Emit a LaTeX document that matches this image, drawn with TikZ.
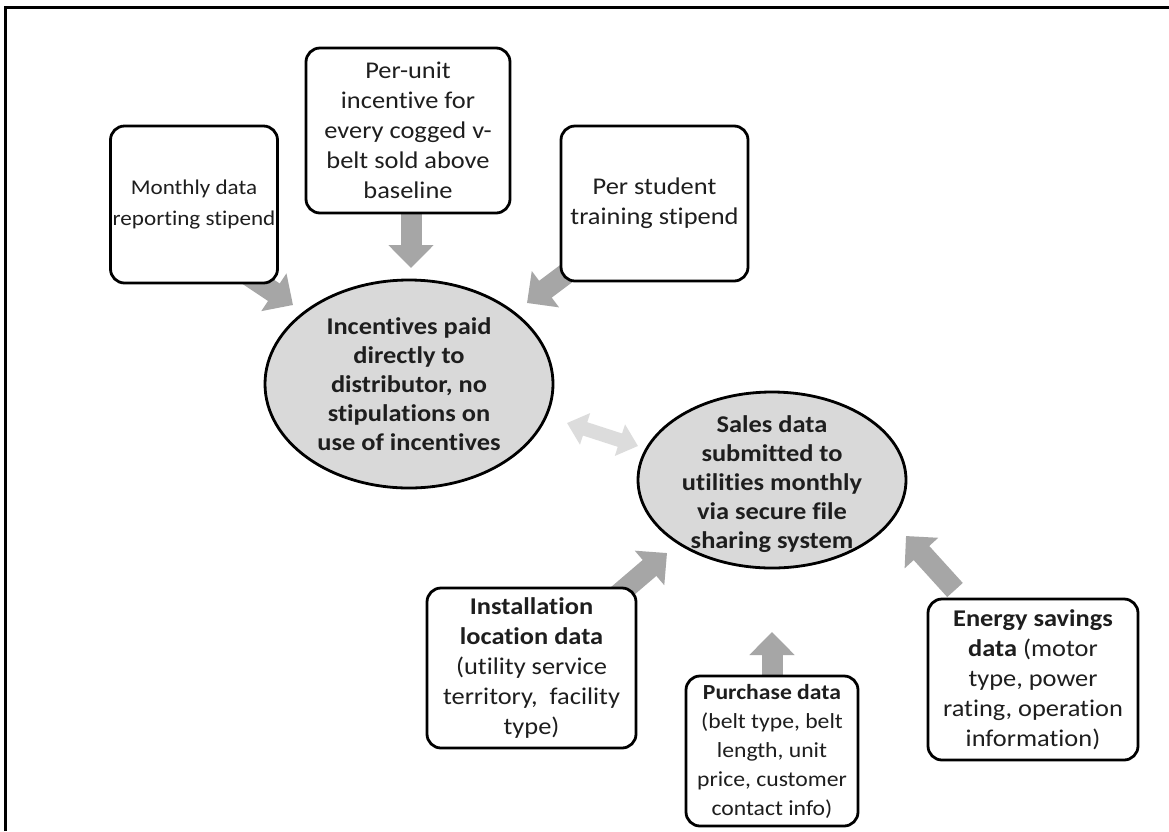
\documentclass[tikz,border=0pt]{standalone}
\usepackage{fontspec}
\setmainfont{Carlito}[FakeStretch=1.1,Ligatures=NoCommon]
\usetikzlibrary{arrows.meta,shapes.geometric}
\definecolor{arrowgray}{HTML}{A6A6A6}
\definecolor{lightarrow}{HTML}{DCDCDC}
\definecolor{ovalfill}{HTML}{D9D9D9}
\definecolor{txt}{HTML}{1E1E1E}
\begin{document}
\begin{tikzpicture}[x=1pt,y=-1pt,
  box/.style={draw, line width=2.8pt, rounded corners=14pt, fill=white,
    inner sep=0pt, text=txt, align=center, font=\fontsize{24}{30}\selectfont},
  oval/.style={ellipse, draw, line width=2.8pt, fill=ovalfill, inner sep=0pt},
  ovaltext/.style={align=center, text=txt, inner sep=0pt, font=\fontsize{24}{29}\selectfont\bfseries},
  blockarrow/.style={arrowgray, line width=21pt,
    -{Triangle[width=44pt,length=23pt]}},
  dblarrow/.style={lightarrow, line width=14pt,
    {Triangle[width=32pt,length=19pt]}-{Triangle[width=32pt,length=19pt]}}
]
\useasboundingbox (0,0) rectangle (1169,831);
\fill[white] (0,0) rectangle (1169,831);
\draw[line width=3pt] (5,831) -- (5,7) -- (1169,7);

% arrow coordinates
\coordinate (a1s) at (239,269);  \coordinate (a1e) at (293,305);
\coordinate (a2s) at (411,214);  \coordinate (a2e) at (411,268);
\coordinate (a3s) at (583,261);  \coordinate (a3e) at (527,303);
\coordinate (a4s) at (612,600);  \coordinate (a4e) at (667,553);
\coordinate (a5s) at (772,680);  \coordinate (a5e) at (772,632);
\coordinate (a6s) at (955,590);  \coordinate (a6e) at (906,536);

\draw[blockarrow] (a1s) -- (a1e);
\draw[blockarrow] (a2s) -- (a2e);
\draw[blockarrow] (a3s) -- (a3e);
\draw[blockarrow] (a4s) -- (a4e);
\draw[blockarrow] (a5s) -- (a5e);
\draw[blockarrow] (a6s) -- (a6e);

% top boxes
\node[box, minimum width=167pt, minimum height=157pt, font=\fontsize{21}{31}\selectfont] (b1) at (194,204.5)
  {Monthly data\\reporting stipend};
\node[box, minimum width=204pt, minimum height=165pt] (b2) at (408,130.5)
  {Per-unit\\incentive for\\every cogged v-\\belt sold above\\baseline};
\node[box, minimum width=187pt, minimum height=155pt] (b3) at (654.5,203.5)
  {Per student\\training stipend};

% ovals
\node[oval, minimum width=288pt, minimum height=208pt] (e1) at (409,384) {};
\node[ovaltext] (t1) at (e1) {Incentives paid\\directly to\\distributor, no\\stipulations on\\use of incentives};
\node[oval, minimum width=268pt, minimum height=176pt] (e2) at (772,480) {};
\node[ovaltext] (t2) at ([yshift=-4pt]e2.center) {Sales data\\submitted to\\utilities monthly\\via secure file\\sharing system};

\coordinate (d1) at (567,423); \coordinate (d2) at (638,446);
\draw[dblarrow] (d1) -- (d2);

% bottom boxes
\node[box, minimum width=209pt, minimum height=160pt] (b4) at (531.5,668)
  {\textbf{Installation}\\\textbf{location data}\\(utility service\\territory,\ \ facility\\type)};
\node[box, minimum width=172pt, minimum height=150pt, font=\fontsize{21.5}{29}\selectfont] (b5) at (772,751)
  {\textbf{Purchase data}\\(belt type, belt\\length, unit\\price, customer\\contact info)};
\node[box, minimum width=210pt, minimum height=161pt] (b6) at (1033,679.5)
  {\textbf{Energy savings}\\\textbf{data} (motor\\type, power\\rating, operation\\information)};
\end{tikzpicture}
\end{document}
